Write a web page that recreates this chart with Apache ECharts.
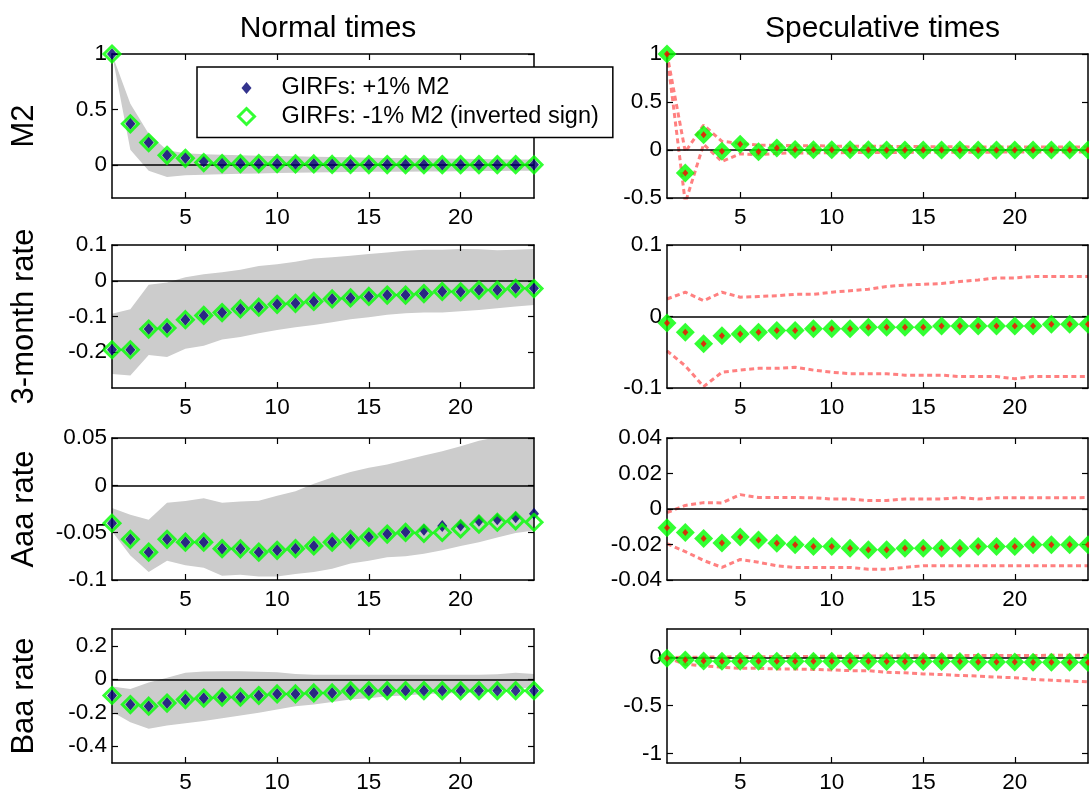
<!DOCTYPE html>
<html><head><meta charset="utf-8">
<script src="https://cdn.jsdelivr.net/npm/echarts@6/dist/echarts.min.js"></script>
<style>html,body{margin:0;padding:0;background:#fff}#c{width:1089px;height:794px}</style>
</head><body><div id="c"></div><script>
const FONT = '"Liberation Sans", Arial, Helvetica, sans-serif';

// ---------- data ----------
const steps = [1,2,3,4,5,6,7,8,9,10,11,12,13,14,15,16,17,18,19,20,21,22,23,24];
const xTickValues = [5, 10, 15, 20];
const rowNames = ['M2', '3-month rate', 'Aaa rate', 'Baa rate'];
const colTitles = ['Normal times', 'Speculative times'];
const plusName = 'GIRFs: +1% M2';
const minusName = 'GIRFs: -1% M2 (inverted sign)';

// y limits and tick labels per row
const yLimNormal = [[-0.3, 1], [-0.3, 0.1], [-0.1, 0.05], [-0.5, 0.3]];
const yLimSpec   = [[-0.5, 1], [-0.1, 0.1], [-0.04, 0.04], [-1.1, 0.3]];
const yTicksNormal = [[0, 0.5, 1], [-0.2, -0.1, 0, 0.1], [-0.1, -0.05, 0, 0.05], [-0.4, -0.2, 0, 0.2]];
const yTicksSpec   = [[-0.5, 0, 0.5, 1], [-0.1, 0, 0.1], [-0.04, -0.02, 0, 0.02, 0.04], [-1, -0.5, 0]];

// M2 — normal times
const m2NormPlus  = [1.00, 0.37, 0.20, 0.085, 0.060, 0.030, 0.012, 0.011, 0.010, 0.010, 0.008, 0.008, 0.004, 0.003, 0.002, 0.002, 0.002, 0.001, 0.001, 0.001, 0.001, 0.001, 0.001, 0.000];
const m2NormMinus = [1.00, 0.37, 0.20, 0.085, 0.058, 0.020, 0.010, 0.010, 0.010, 0.010, 0.008, 0.007, 0.003, 0.003, 0.002, 0.002, 0.002, 0.001, 0.001, 0.001, 0.001, 0.001, 0.001, 0.000];
const m2NormHi    = [1.00, 0.55, 0.28, 0.13, 0.105, 0.095, 0.090, 0.085, 0.082, 0.079, 0.076, 0.073, 0.070, 0.067, 0.064, 0.062, 0.060, 0.058, 0.056, 0.054, 0.052, 0.050, 0.048, 0.047];
const m2NormLo    = [1.00, 0.135, -0.054, -0.11, -0.095, -0.090, -0.085, -0.080, -0.078, -0.075, -0.073, -0.070, -0.068, -0.066, -0.064, -0.063, -0.062, -0.061, -0.060, -0.058, -0.057, -0.056, -0.055, -0.054];
// M2 — speculative times
const m2SpecPlus  = [1.00, -0.24, 0.16, -0.012, 0.060, -0.018, 0.022, 0.005, 0.003, 0.003, 0.002, 0.002, 0.001, 0.001, 0.001, 0.001, 0.000, 0.000, 0.000, 0.000, 0.000, 0.000, 0.000, 0.000];
const m2SpecMinus = [1.00, -0.24, 0.16, -0.012, 0.060, -0.018, 0.022, 0.005, 0.003, 0.003, 0.002, 0.002, 0.001, 0.001, 0.001, 0.001, 0.000, 0.000, 0.000, 0.000, 0.000, 0.000, 0.000, 0.000];
const m2SpecHi    = [1.00, -0.02, 0.26, 0.09, 0.07, 0.05, 0.05, 0.045, 0.045, 0.040, 0.040, 0.040, 0.038, 0.036, 0.035, 0.034, 0.033, 0.032, 0.031, 0.030, 0.030, 0.030, 0.030, 0.030];
const m2SpecLo    = [1.00, -0.55, 0.06, -0.12, -0.04, -0.05, -0.035, -0.030, -0.030, -0.028, -0.027, -0.026, -0.025, -0.025, -0.024, -0.024, -0.023, -0.023, -0.022, -0.022, -0.022, -0.021, -0.021, -0.021];

// 3-month rate — normal times
const r3NormPlus  = [-0.193, -0.193, -0.135, -0.132, -0.109, -0.097, -0.089, -0.079, -0.074, -0.066, -0.063, -0.058, -0.051, -0.048, -0.044, -0.040, -0.040, -0.036, -0.030, -0.031, -0.026, -0.026, -0.020, -0.021];
const r3NormMinus = [-0.193, -0.193, -0.135, -0.132, -0.109, -0.097, -0.089, -0.079, -0.074, -0.066, -0.063, -0.058, -0.051, -0.048, -0.044, -0.040, -0.040, -0.036, -0.030, -0.031, -0.026, -0.026, -0.021, -0.022];
const r3NormHi    = [-0.092, -0.080, -0.011, -0.005, 0.010, 0.018, 0.024, 0.031, 0.041, 0.046, 0.053, 0.062, 0.066, 0.070, 0.075, 0.079, 0.084, 0.087, 0.087, 0.089, 0.088, 0.085, 0.087, 0.089];
const r3NormLo    = [-0.261, -0.265, -0.208, -0.213, -0.190, -0.182, -0.164, -0.157, -0.147, -0.138, -0.130, -0.124, -0.116, -0.108, -0.102, -0.095, -0.091, -0.089, -0.089, -0.085, -0.082, -0.077, -0.072, -0.068];
// 3-month rate — speculative times
const r3SpecPlus  = [-0.009, -0.022, -0.038, -0.027, -0.0245, -0.022, -0.0196, -0.0196, -0.0172, -0.0172, -0.0172, -0.0152, -0.0152, -0.0152, -0.0152, -0.0132, -0.0132, -0.0132, -0.0132, -0.0132, -0.0132, -0.0108, -0.0108, -0.0108];
const r3SpecMinus = [-0.009, -0.022, -0.038, -0.027, -0.0245, -0.022, -0.0196, -0.0196, -0.0172, -0.0172, -0.0172, -0.0152, -0.0152, -0.0152, -0.0152, -0.0132, -0.0132, -0.0132, -0.0132, -0.0132, -0.0132, -0.0108, -0.0108, -0.0108];
const r3SpecHi    = [0.0245, 0.034, 0.022, 0.034, 0.027, 0.028, 0.029, 0.031, 0.031, 0.034, 0.036, 0.038, 0.042, 0.044, 0.045, 0.046, 0.049, 0.051, 0.054, 0.054, 0.056, 0.056, 0.056, 0.056];
const r3SpecLo    = [-0.048, -0.069, -0.098, -0.078, -0.075, -0.0725, -0.0725, -0.071, -0.075, -0.078, -0.080, -0.080, -0.080, -0.082, -0.082, -0.082, -0.084, -0.084, -0.084, -0.087, -0.084, -0.084, -0.084, -0.084];

// Aaa rate — normal times
const aaaNormPlus  = [-0.040, -0.057, -0.0706, -0.057, -0.060, -0.060, -0.0669, -0.067, -0.0706, -0.0687, -0.0669, -0.064, -0.060, -0.057, -0.0547, -0.0515, -0.0492, -0.047, -0.043, -0.0423, -0.0375, -0.0357, -0.0338, -0.0301];
const aaaNormMinus = [-0.040, -0.057, -0.0706, -0.057, -0.060, -0.060, -0.0669, -0.067, -0.0706, -0.0687, -0.0669, -0.064, -0.060, -0.057, -0.0547, -0.0515, -0.0497, -0.0507, -0.0498, -0.046, -0.041, -0.039, -0.0375, -0.039];
const aaaNormHi    = [-0.0239, -0.031, -0.0364, -0.0184, -0.0166, -0.0136, -0.0184, -0.017, -0.0163, -0.0111, -0.0063, 0.0018, 0.0084, 0.014, 0.0187, 0.022, 0.0267, 0.0315, 0.036, 0.0414, 0.047, 0.051, 0.055, 0.059];
const aaaNormLo    = [-0.0485, -0.0742, -0.0915, -0.0797, -0.0845, -0.087, -0.0955, -0.0945, -0.0963, -0.0963, -0.0937, -0.0915, -0.088, -0.0827, -0.0797, -0.076, -0.075, -0.0724, -0.0687, -0.064, -0.060, -0.055, -0.0504, -0.0478];
// Aaa rate — speculative times
const aaaSpecPlus  = [-0.0106, -0.0132, -0.0166, -0.0191, -0.0158, -0.0175, -0.0193, -0.0201, -0.0211, -0.0211, -0.0221, -0.023, -0.023, -0.0221, -0.0221, -0.0221, -0.0221, -0.0211, -0.0211, -0.0211, -0.0201, -0.0201, -0.0201, -0.0201];
const aaaSpecMinus = [-0.0106, -0.0132, -0.0166, -0.0191, -0.0158, -0.0175, -0.0193, -0.0201, -0.0211, -0.0211, -0.0221, -0.023, -0.023, -0.0221, -0.0221, -0.0221, -0.0221, -0.0211, -0.0211, -0.0211, -0.0201, -0.0201, -0.0201, -0.0201];
const aaaSpecHi    = [-0.002, 0.002, 0.0036, 0.0034, 0.0081, 0.0065, 0.0065, 0.0065, 0.0063, 0.0056, 0.0056, 0.0048, 0.0048, 0.0056, 0.0056, 0.0056, 0.0065, 0.0056, 0.0063, 0.0063, 0.0063, 0.0063, 0.0063, 0.0065];
const aaaSpecLo    = [-0.0195, -0.024, -0.029, -0.0329, -0.0284, -0.030, -0.032, -0.0329, -0.0329, -0.0329, -0.0329, -0.0339, -0.0339, -0.0329, -0.032, -0.032, -0.032, -0.032, -0.032, -0.032, -0.032, -0.032, -0.032, -0.032];

// Baa rate — normal times
const baaNormPlus  = [-0.097, -0.151, -0.161, -0.142, -0.121, -0.113, -0.107, -0.107, -0.097, -0.088, -0.088, -0.082, -0.082, -0.068, -0.068, -0.068, -0.068, -0.068, -0.068, -0.068, -0.068, -0.068, -0.068, -0.068];
const baaNormMinus = [-0.097, -0.151, -0.161, -0.142, -0.121, -0.113, -0.107, -0.107, -0.097, -0.088, -0.088, -0.082, -0.082, -0.068, -0.068, -0.068, -0.068, -0.068, -0.068, -0.068, -0.068, -0.068, -0.068, -0.068];
const baaNormHi    = [-0.043, -0.058, -0.0196, 0.0095, 0.0386, 0.046, 0.048, 0.048, 0.045, 0.042, 0.031, 0.027, 0.027, 0.027, 0.027, 0.027, 0.027, 0.027, 0.027, 0.027, 0.027, 0.030, 0.039, 0.031];
const baaNormLo    = [-0.194, -0.256, -0.295, -0.276, -0.262, -0.249, -0.233, -0.217, -0.200, -0.180, -0.161, -0.150, -0.136, -0.121, -0.113, -0.101, -0.097, -0.088, -0.085, -0.082, -0.078, -0.068, -0.055, -0.049];
// Baa rate — speculative times
const baaSpecPlus  = [-0.005, -0.025, -0.035, -0.037, -0.037, -0.037, -0.037, -0.038, -0.038, -0.038, -0.038, -0.038, -0.040, -0.040, -0.040, -0.040, -0.040, -0.045, -0.045, -0.045, -0.047, -0.047, -0.048, -0.050];
const baaSpecMinus = [-0.005, -0.025, -0.035, -0.037, -0.037, -0.037, -0.037, -0.038, -0.038, -0.038, -0.038, -0.038, -0.040, -0.040, -0.040, -0.040, -0.040, -0.045, -0.045, -0.045, -0.047, -0.047, -0.048, -0.050];
const baaSpecHi    = [0.000, 0.005, 0.006, 0.008, 0.010, 0.010, 0.012, 0.013, 0.014, 0.015, 0.016, 0.017, 0.018, 0.019, 0.020, 0.021, 0.022, 0.022, 0.023, 0.024, 0.024, 0.025, 0.025, 0.026];
const baaSpecLo    = [0.000, -0.068, -0.084, -0.100, -0.110, -0.110, -0.118, -0.118, -0.122, -0.128, -0.135, -0.135, -0.152, -0.158, -0.169, -0.176, -0.185, -0.192, -0.202, -0.209, -0.226, -0.236, -0.243, -0.253];

const normalRows = [
  {plus: m2NormPlus, minus: m2NormMinus, lo: m2NormLo, hi: m2NormHi},
  {plus: r3NormPlus, minus: r3NormMinus, lo: r3NormLo, hi: r3NormHi},
  {plus: aaaNormPlus, minus: aaaNormMinus, lo: aaaNormLo, hi: aaaNormHi},
  {plus: baaNormPlus, minus: baaNormMinus, lo: baaNormLo, hi: baaNormHi}
];
const specRows = [
  {plus: m2SpecPlus, minus: m2SpecMinus, lo: m2SpecLo, hi: m2SpecHi},
  {plus: r3SpecPlus, minus: r3SpecMinus, lo: r3SpecLo, hi: r3SpecHi},
  {plus: aaaSpecPlus, minus: aaaSpecMinus, lo: aaaSpecLo, hi: aaaSpecHi},
  {plus: baaSpecPlus, minus: baaSpecMinus, lo: baaSpecLo, hi: baaSpecHi}
];

// ---------- layout ----------
const gridTops = [54, 245, 438, 629];
const gridHeights = [144, 143, 142, 144];
const colLeft = [112, 667];
const colWidth = [422, 421];

const pairs = arr => steps.map((x, k) => [x, arr[k]]);
const black = '#000';
const grids = [], xAxes = [], yAxes = [], series = [];
const nPanels = 8;
const tickFont = 22.5;

function axisCommon() {
  return {
    axisLine: {show: true, onZero: false, lineStyle: {color: black, width: 1.5}},
    splitLine: {show: false},
    z: 3
  };
}

for (let r = 0; r < 4; r++) {
  for (let c = 0; c < 2; c++) {
    const i = r * 2 + c;
    grids.push({left: colLeft[c], top: gridTops[r], width: colWidth[c], height: gridHeights[r], show: false, containLabel: false});
    const lim = c === 0 ? yLimNormal[r] : yLimSpec[r];
    const yt = c === 0 ? yTicksNormal[r] : yTicksSpec[r];
    const tick = vals => ({show: true, inside: true, length: 6, customValues: vals, lineStyle: {color: black, width: 1.2}});
    xAxes[i] = Object.assign(axisCommon(), {
      gridIndex: i, type: 'value', min: 1, max: 24, position: 'bottom',
      axisTick: tick(xTickValues),
      axisLabel: {show: true, customValues: xTickValues, fontSize: tickFont, color: black, fontFamily: FONT, margin: 8}
    });
    xAxes[nPanels + i] = Object.assign(axisCommon(), {
      gridIndex: i, type: 'value', min: 1, max: 24, position: 'top',
      axisTick: tick(xTickValues), axisLabel: {show: false}
    });
    const ya = Object.assign(axisCommon(), {
      gridIndex: i, type: 'value', min: lim[0], max: lim[1], position: 'left',
      axisTick: tick(yt),
      axisLabel: {show: true, customValues: yt, fontSize: tickFont, color: black, fontFamily: FONT, margin: 5}
    });
    if (c === 0) {
      ya.name = rowNames[r];
      ya.nameLocation = 'middle';
      ya.nameRotate = 90;
      ya.nameGap = 72;
      ya.nameTextStyle = {fontSize: 31, color: black, fontFamily: FONT};
    }
    yAxes[i] = ya;
    yAxes[nPanels + i] = Object.assign(axisCommon(), {
      gridIndex: i, type: 'value', min: lim[0], max: lim[1], position: 'right',
      axisTick: tick(yt), axisLabel: {show: false}
    });

    const zeroLine = {
      silent: true, symbol: ['none', 'none'], z: 4, animation: false,
      label: {show: false}, emphasis: {disabled: true},
      lineStyle: {color: black, width: 1.5, type: 'solid'},
      data: [{yAxis: 0}]
    };

    if (c === 0) {
      const d = normalRows[r];
      // grey band: upper bound area down to axis bottom, then white area below the lower bound
      series.push({
        type: 'line', name: 'band-hi-' + i, xAxisIndex: i, yAxisIndex: i, data: pairs(d.hi),
        symbol: 'none', lineStyle: {width: 0, opacity: 0},
        areaStyle: {color: '#cccccc', opacity: 1, origin: 'start'}, z: 1, silent: true
      });
      series.push({
        type: 'line', name: 'band-lo-' + i, xAxisIndex: i, yAxisIndex: i, data: pairs(d.lo),
        symbol: 'none', lineStyle: {width: 0, opacity: 0},
        areaStyle: {color: '#ffffff', opacity: 1, origin: 'start'}, z: 1.5, silent: true,
        markLine: zeroLine
      });
      series.push({
        type: 'scatter', name: plusName, xAxisIndex: i, yAxisIndex: i, data: pairs(d.plus),
        symbol: 'diamond', symbolSize: [10, 12], itemStyle: {color: '#000070'}, clip: false, z: 6
      });
      series.push({
        type: 'scatter', name: minusName, xAxisIndex: i, yAxisIndex: i, data: pairs(d.minus),
        symbol: 'diamond', symbolSize: 16, itemStyle: {color: 'rgba(255,255,255,0)', borderColor: '#00ff00', borderWidth: 3}, clip: false, z: 7
      });
    } else {
      const d = specRows[r];
      const dot = {color: '#ff8080', width: 3, type: [5, 3.5]};
      series.push({
        type: 'line', name: 'spec-lo-' + i, xAxisIndex: i, yAxisIndex: i, data: pairs(d.lo),
        symbol: 'none', lineStyle: dot, z: 2, silent: true, markLine: zeroLine
      });
      series.push({
        type: 'line', name: 'spec-hi-' + i, xAxisIndex: i, yAxisIndex: i, data: pairs(d.hi),
        symbol: 'none', lineStyle: dot, z: 2, silent: true
      });
      series.push({
        type: 'scatter', name: 'spec-minus-' + i, xAxisIndex: i, yAxisIndex: i, data: pairs(d.minus),
        symbol: 'diamond', symbolSize: 19, itemStyle: {color: '#00ff00'}, clip: false, z: 6
      });
      series.push({
        type: 'scatter', name: 'spec-plus-' + i, xAxisIndex: i, yAxisIndex: i, data: pairs(d.plus),
        symbol: 'diamond', symbolSize: [6, 7], itemStyle: {color: '#ff0000'}, clip: false, z: 7
      });
    }
  }
}

const option = {
  animation: false,
  backgroundColor: '#fff',
  title: colTitles.map((t, c) => ({
    text: t, left: colLeft[c] + colWidth[c] / 2, top: 9, textAlign: 'center',
    textStyle: {fontSize: 30, fontWeight: 'normal', color: black, fontFamily: FONT}
  })),
  legend: {
    left: 197, top: 67, orient: 'vertical', selectedMode: false,
    backgroundColor: '#fff', borderColor: black, borderWidth: 1.5,
    padding: [8, 14, 8, 40], itemGap: 2.5, itemWidth: 16, itemHeight: 16,
    textStyle: {fontSize: 23.5, lineHeight: 26, color: black, fontFamily: FONT, padding: [0, 0, 0, 22]},
    data: [
      {name: plusName, icon: 'path://M0,-6L5,0L0,6L-5,0Z M-8,-8 M8,8'},
      {name: minusName, itemStyle: {borderWidth: 3, borderColor: '#00ff00', color: 'rgba(255,255,255,0)'}}
    ],
    z: 10
  },
  grid: grids,
  xAxis: xAxes,
  yAxis: yAxes,
  series: series
};

const chart = echarts.init(document.getElementById('c'), null, {renderer: 'canvas'});
chart.setOption(option);
</script></body></html>
